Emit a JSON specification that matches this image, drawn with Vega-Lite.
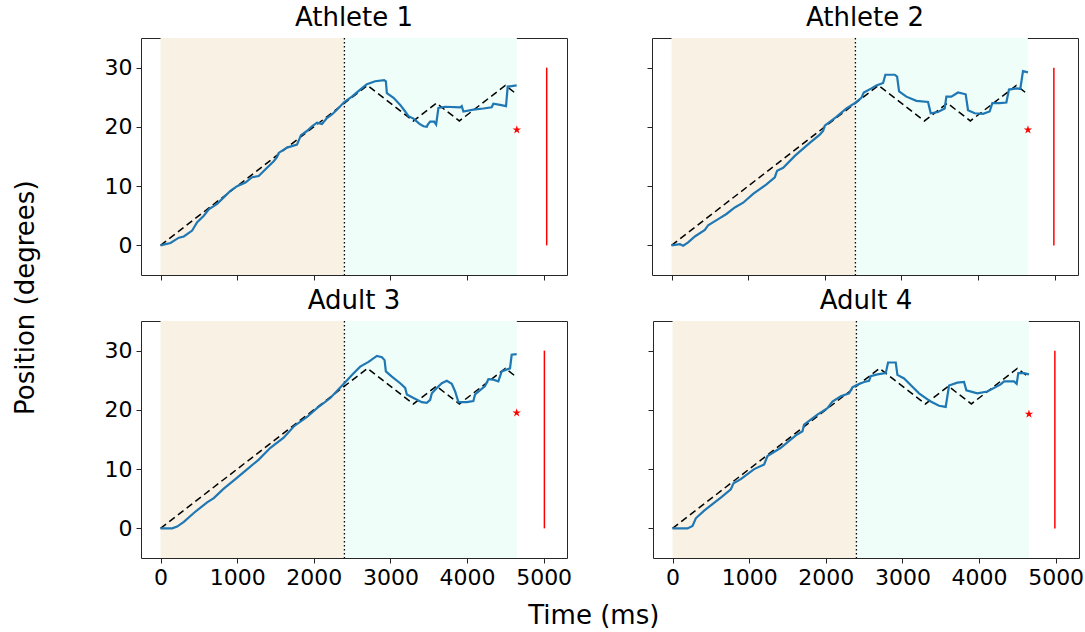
{
  "$schema": "https://vega.github.io/schema/vega-lite/v6.json",
  "padding": {"left": 12, "top": 4, "right": 5, "bottom": 5},
  "background": "white",
  "config": {
    "font": "DejaVu Sans",
    "view": {"stroke": "#262626", "strokeWidth": 1},
    "axis": {"grid": false, "domain": false, "tickColor": "#262626", "tickSize": 5, "tickWidth": 1, "labelFont": "DejaVu Sans", "labelFontSize": 22, "labelColor": "black", "labelPadding": 4},
    "title": {"font": "DejaVu Sans", "fontSize": 26, "fontWeight": "normal", "color": "black", "offset": 6},
    "concat": {"spacing": 78}
  },
  "datasets": {
    "phases": [
      {"phase": "encode", "start": 0, "end": 2400},
      {"phase": "hold", "start": 2400, "end": 4650}
    ],
    "boundary": [{"t": 2400}],
    "target": [
      {"t": 0, "pos": 0}, {"t": 2700, "pos": 27}, {"t": 3300, "pos": 21}, {"t": 3600, "pos": 24},
      {"t": 3900, "pos": 21}, {"t": 4500, "pos": 27}, {"t": 4650, "pos": 25.5}
    ],
    "bar": [
      {"panel": "A1", "t": 5040, "lo": 0, "hi": 30},
      {"panel": "A2", "t": 4990, "lo": 0, "hi": 30},
      {"panel": "A3", "t": 5010, "lo": 0, "hi": 30},
      {"panel": "A4", "t": 4990, "lo": 0, "hi": 30}
    ],
    "star": [
      {"panel": "A1", "t": 4650, "pos": 19.5},
      {"panel": "A2", "t": 4652, "pos": 19.5},
      {"panel": "A3", "t": 4648, "pos": 19.5},
      {"panel": "A4", "t": 4652, "pos": 19.3}
    ],
    "trace": [
      {"panel": "A1", "t": 0, "pos": 0}, {"panel": "A1", "t": 130, "pos": 0.4}, {"panel": "A1", "t": 239, "pos": 1.3}, {"panel": "A1", "t": 304, "pos": 1.5},
      {"panel": "A1", "t": 413, "pos": 2.5}, {"panel": "A1", "t": 478, "pos": 3.9}, {"panel": "A1", "t": 565, "pos": 5.0}, {"panel": "A1", "t": 630, "pos": 6.1},
      {"panel": "A1", "t": 738, "pos": 7.0}, {"panel": "A1", "t": 825, "pos": 8.1}, {"panel": "A1", "t": 912, "pos": 9.2}, {"panel": "A1", "t": 999, "pos": 10.0},
      {"panel": "A1", "t": 1108, "pos": 10.6}, {"panel": "A1", "t": 1195, "pos": 11.5}, {"panel": "A1", "t": 1281, "pos": 11.7}, {"panel": "A1", "t": 1390, "pos": 13.1},
      {"panel": "A1", "t": 1477, "pos": 14.2}, {"panel": "A1", "t": 1520, "pos": 14.9}, {"panel": "A1", "t": 1542, "pos": 15.6}, {"panel": "A1", "t": 1651, "pos": 16.5},
      {"panel": "A1", "t": 1781, "pos": 17.0}, {"panel": "A1", "t": 1833, "pos": 18.6}, {"panel": "A1", "t": 1911, "pos": 19.3}, {"panel": "A1", "t": 1977, "pos": 20.1},
      {"panel": "A1", "t": 2042, "pos": 20.7}, {"panel": "A1", "t": 2107, "pos": 20.5}, {"panel": "A1", "t": 2172, "pos": 21.5}, {"panel": "A1", "t": 2237, "pos": 22.1},
      {"panel": "A1", "t": 2302, "pos": 22.9}, {"panel": "A1", "t": 2398, "pos": 24.2}, {"panel": "A1", "t": 2498, "pos": 25.1}, {"panel": "A1", "t": 2606, "pos": 26.3},
      {"panel": "A1", "t": 2693, "pos": 27.2}, {"panel": "A1", "t": 2802, "pos": 27.7}, {"panel": "A1", "t": 2919, "pos": 27.9}, {"panel": "A1", "t": 2941, "pos": 27.7},
      {"panel": "A1", "t": 2954, "pos": 25.7}, {"panel": "A1", "t": 3041, "pos": 24.9}, {"panel": "A1", "t": 3128, "pos": 23.7}, {"panel": "A1", "t": 3193, "pos": 22.6},
      {"panel": "A1", "t": 3236, "pos": 21.8}, {"panel": "A1", "t": 3301, "pos": 21.4}, {"panel": "A1", "t": 3380, "pos": 20.5}, {"panel": "A1", "t": 3432, "pos": 20.1},
      {"panel": "A1", "t": 3475, "pos": 20.0}, {"panel": "A1", "t": 3488, "pos": 20.4}, {"panel": "A1", "t": 3519, "pos": 20.9}, {"panel": "A1", "t": 3571, "pos": 20.9},
      {"panel": "A1", "t": 3597, "pos": 20.4}, {"panel": "A1", "t": 3627, "pos": 23.2}, {"panel": "A1", "t": 3714, "pos": 23.4}, {"panel": "A1", "t": 3910, "pos": 23.3},
      {"panel": "A1", "t": 3931, "pos": 23.5}, {"panel": "A1", "t": 3953, "pos": 22.6}, {"panel": "A1", "t": 4083, "pos": 22.9}, {"panel": "A1", "t": 4214, "pos": 23.1},
      {"panel": "A1", "t": 4322, "pos": 23.3}, {"panel": "A1", "t": 4344, "pos": 23.9}, {"panel": "A1", "t": 4431, "pos": 23.7}, {"panel": "A1", "t": 4509, "pos": 23.5},
      {"panel": "A1", "t": 4531, "pos": 26.8}, {"panel": "A1", "t": 4648, "pos": 27.0},

      {"panel": "A2", "t": 0, "pos": 0}, {"panel": "A2", "t": 109, "pos": 0.2}, {"panel": "A2", "t": 152, "pos": -0.05}, {"panel": "A2", "t": 217, "pos": 0.5},
      {"panel": "A2", "t": 304, "pos": 1.5}, {"panel": "A2", "t": 435, "pos": 2.6}, {"panel": "A2", "t": 478, "pos": 3.4}, {"panel": "A2", "t": 630, "pos": 4.6},
      {"panel": "A2", "t": 717, "pos": 5.3}, {"panel": "A2", "t": 826, "pos": 6.4}, {"panel": "A2", "t": 935, "pos": 7.2}, {"panel": "A2", "t": 1065, "pos": 8.7},
      {"panel": "A2", "t": 1239, "pos": 10.3}, {"panel": "A2", "t": 1348, "pos": 11.5}, {"panel": "A2", "t": 1378, "pos": 12.6}, {"panel": "A2", "t": 1457, "pos": 13.1},
      {"panel": "A2", "t": 1609, "pos": 15.1}, {"panel": "A2", "t": 1804, "pos": 17.3}, {"panel": "A2", "t": 1935, "pos": 18.7}, {"panel": "A2", "t": 1978, "pos": 19.3},
      {"panel": "A2", "t": 2000, "pos": 20.2}, {"panel": "A2", "t": 2152, "pos": 21.7}, {"panel": "A2", "t": 2283, "pos": 23.1}, {"panel": "A2", "t": 2391, "pos": 24.0},
      {"panel": "A2", "t": 2478, "pos": 24.9}, {"panel": "A2", "t": 2509, "pos": 25.8}, {"panel": "A2", "t": 2609, "pos": 26.5}, {"panel": "A2", "t": 2674, "pos": 27.0},
      {"panel": "A2", "t": 2761, "pos": 27.4}, {"panel": "A2", "t": 2791, "pos": 28.8}, {"panel": "A2", "t": 2913, "pos": 28.8}, {"panel": "A2", "t": 2944, "pos": 28.5},
      {"panel": "A2", "t": 2970, "pos": 26.0}, {"panel": "A2", "t": 3065, "pos": 25.1}, {"panel": "A2", "t": 3196, "pos": 24.4}, {"panel": "A2", "t": 3348, "pos": 24.2},
      {"panel": "A2", "t": 3383, "pos": 22.3}, {"panel": "A2", "t": 3478, "pos": 22.5}, {"panel": "A2", "t": 3565, "pos": 23.1}, {"panel": "A2", "t": 3587, "pos": 25.1},
      {"panel": "A2", "t": 3652, "pos": 25.1}, {"panel": "A2", "t": 3739, "pos": 25.8}, {"panel": "A2", "t": 3839, "pos": 25.5}, {"panel": "A2", "t": 3870, "pos": 22.8},
      {"panel": "A2", "t": 3957, "pos": 22.3}, {"panel": "A2", "t": 4065, "pos": 22.2}, {"panel": "A2", "t": 4152, "pos": 22.6}, {"panel": "A2", "t": 4187, "pos": 24.0},
      {"panel": "A2", "t": 4283, "pos": 24.0}, {"panel": "A2", "t": 4370, "pos": 24.1}, {"panel": "A2", "t": 4404, "pos": 26.3}, {"panel": "A2", "t": 4500, "pos": 26.5},
      {"panel": "A2", "t": 4552, "pos": 26.4}, {"panel": "A2", "t": 4587, "pos": 29.4}, {"panel": "A2", "t": 4652, "pos": 29.2},

      {"panel": "A3", "t": 0, "pos": 0}, {"panel": "A3", "t": 152, "pos": 0}, {"panel": "A3", "t": 217, "pos": 0.3}, {"panel": "A3", "t": 304, "pos": 1.1},
      {"panel": "A3", "t": 434, "pos": 2.6}, {"panel": "A3", "t": 608, "pos": 4.4}, {"panel": "A3", "t": 695, "pos": 5.1}, {"panel": "A3", "t": 825, "pos": 6.7},
      {"panel": "A3", "t": 977, "pos": 8.3}, {"panel": "A3", "t": 1086, "pos": 9.5}, {"panel": "A3", "t": 1282, "pos": 11.6}, {"panel": "A3", "t": 1434, "pos": 13.6},
      {"panel": "A3", "t": 1607, "pos": 15.3}, {"panel": "A3", "t": 1738, "pos": 17.2}, {"panel": "A3", "t": 1912, "pos": 18.8}, {"panel": "A3", "t": 2042, "pos": 20.3},
      {"panel": "A3", "t": 2216, "pos": 22.0}, {"panel": "A3", "t": 2398, "pos": 24.5}, {"panel": "A3", "t": 2498, "pos": 25.9}, {"panel": "A3", "t": 2606, "pos": 27.3},
      {"panel": "A3", "t": 2715, "pos": 28.1}, {"panel": "A3", "t": 2824, "pos": 29.1}, {"panel": "A3", "t": 2889, "pos": 28.9}, {"panel": "A3", "t": 2924, "pos": 28.4},
      {"panel": "A3", "t": 2941, "pos": 26.5}, {"panel": "A3", "t": 3019, "pos": 25.6}, {"panel": "A3", "t": 3128, "pos": 24.5}, {"panel": "A3", "t": 3193, "pos": 23.7},
      {"panel": "A3", "t": 3215, "pos": 22.6}, {"panel": "A3", "t": 3302, "pos": 22.0}, {"panel": "A3", "t": 3410, "pos": 21.3}, {"panel": "A3", "t": 3475, "pos": 21.2},
      {"panel": "A3", "t": 3519, "pos": 21.7}, {"panel": "A3", "t": 3541, "pos": 22.8}, {"panel": "A3", "t": 3606, "pos": 23.7}, {"panel": "A3", "t": 3671, "pos": 24.5},
      {"panel": "A3", "t": 3736, "pos": 24.9}, {"panel": "A3", "t": 3801, "pos": 24.4}, {"panel": "A3", "t": 3845, "pos": 23.1}, {"panel": "A3", "t": 3888, "pos": 21.3},
      {"panel": "A3", "t": 3997, "pos": 21.3}, {"panel": "A3", "t": 4083, "pos": 21.5}, {"panel": "A3", "t": 4105, "pos": 22.6}, {"panel": "A3", "t": 4235, "pos": 24.0},
      {"panel": "A3", "t": 4279, "pos": 25.2}, {"panel": "A3", "t": 4344, "pos": 25.1}, {"panel": "A3", "t": 4409, "pos": 24.8}, {"panel": "A3", "t": 4453, "pos": 26.5},
      {"panel": "A3", "t": 4561, "pos": 27.0}, {"panel": "A3", "t": 4583, "pos": 29.3}, {"panel": "A3", "t": 4648, "pos": 29.4},

      {"panel": "A4", "t": 0, "pos": 0}, {"panel": "A4", "t": 196, "pos": 0}, {"panel": "A4", "t": 261, "pos": 0.4}, {"panel": "A4", "t": 304, "pos": 1.7},
      {"panel": "A4", "t": 413, "pos": 3.0}, {"panel": "A4", "t": 500, "pos": 3.9}, {"panel": "A4", "t": 630, "pos": 5.2}, {"panel": "A4", "t": 761, "pos": 6.6},
      {"panel": "A4", "t": 796, "pos": 7.6}, {"panel": "A4", "t": 891, "pos": 8.3}, {"panel": "A4", "t": 1065, "pos": 10.0}, {"panel": "A4", "t": 1196, "pos": 10.8},
      {"panel": "A4", "t": 1239, "pos": 12.2}, {"panel": "A4", "t": 1413, "pos": 13.6}, {"panel": "A4", "t": 1609, "pos": 15.7}, {"panel": "A4", "t": 1696, "pos": 16.4},
      {"panel": "A4", "t": 1717, "pos": 17.5}, {"panel": "A4", "t": 1891, "pos": 19.2}, {"panel": "A4", "t": 2022, "pos": 20.3}, {"panel": "A4", "t": 2087, "pos": 21.4},
      {"panel": "A4", "t": 2196, "pos": 22.3}, {"panel": "A4", "t": 2304, "pos": 22.8}, {"panel": "A4", "t": 2348, "pos": 23.8}, {"panel": "A4", "t": 2404, "pos": 24.2},
      {"panel": "A4", "t": 2500, "pos": 24.7}, {"panel": "A4", "t": 2565, "pos": 24.9}, {"panel": "A4", "t": 2587, "pos": 25.7}, {"panel": "A4", "t": 2674, "pos": 26.0},
      {"panel": "A4", "t": 2783, "pos": 26.2}, {"panel": "A4", "t": 2813, "pos": 28.0}, {"panel": "A4", "t": 2913, "pos": 28.0}, {"panel": "A4", "t": 2935, "pos": 25.9},
      {"panel": "A4", "t": 3022, "pos": 25.3}, {"panel": "A4", "t": 3131, "pos": 23.9}, {"panel": "A4", "t": 3217, "pos": 22.8}, {"panel": "A4", "t": 3370, "pos": 21.4},
      {"panel": "A4", "t": 3478, "pos": 20.7}, {"panel": "A4", "t": 3565, "pos": 20.5}, {"panel": "A4", "t": 3609, "pos": 24.1}, {"panel": "A4", "t": 3717, "pos": 24.6},
      {"panel": "A4", "t": 3804, "pos": 24.7}, {"panel": "A4", "t": 3835, "pos": 23.3}, {"panel": "A4", "t": 3978, "pos": 22.8}, {"panel": "A4", "t": 4109, "pos": 23.1},
      {"panel": "A4", "t": 4283, "pos": 24.3}, {"panel": "A4", "t": 4326, "pos": 24.8}, {"panel": "A4", "t": 4457, "pos": 24.8}, {"panel": "A4", "t": 4491, "pos": 24.4},
      {"panel": "A4", "t": 4513, "pos": 26.2}, {"panel": "A4", "t": 4587, "pos": 26.2}, {"panel": "A4", "t": 4652, "pos": 26.0}
    ]
  },
  "title": {"text": "Position (degrees)", "orient": "left", "anchor": "middle", "offset": 65, "dx": 19},
  "hconcat": [
    {
      "title": {"text": "Time (ms)", "orient": "bottom", "anchor": "middle", "offset": 14},
      "spacing": 6,
      "vconcat": [
        {
          "spacing": 78,
          "hconcat": [
            {
              "width": 426, "height": 237,
              "title": {"text": "Athlete 1"},
              "layer": [
                {"data": {"name": "phases"}, "mark": {"type": "rect"}, "encoding": {"x": {"field": "start", "type": "quantitative", "scale": {"domain": [-255, 5305], "nice": false, "zero": false}, "axis": {"values": [0, 1000, 2000, 3000, 4000, 5000], "labels": false, "title": null}}, "x2": {"field": "end"}, "color": {"field": "phase", "type": "nominal", "scale": {"domain": ["encode", "hold"], "range": ["#f9f2e4", "#effef8"]}, "legend": null}}},
                {"data": {"name": "boundary"}, "mark": {"type": "rule", "color": "black", "strokeWidth": 1.3, "strokeDash": [1.5, 2.5]}, "encoding": {"x": {"field": "t", "type": "quantitative", "title": null}}},
                {"data": {"name": "target"}, "mark": {"type": "line", "color": "black", "strokeWidth": 1.5, "strokeDash": [7, 4]}, "encoding": {"x": {"field": "t", "type": "quantitative", "title": null}, "y": {"field": "pos", "type": "quantitative", "scale": {"domain": [-5, 35], "nice": false, "zero": false}, "axis": {"values": [0, 10, 20, 30], "title": null}}}},
                {"data": {"name": "trace"}, "transform": [{"filter": {"field": "panel", "equal": "A1"}}], "mark": {"type": "line", "color": "#1f77b4", "strokeWidth": 2.2}, "encoding": {"x": {"field": "t", "type": "quantitative", "title": null}, "y": {"field": "pos", "type": "quantitative", "title": null}}},
                {"data": {"name": "bar"}, "transform": [{"filter": {"field": "panel", "equal": "A1"}}], "mark": {"type": "rule", "color": "#ff0000", "strokeWidth": 1.5}, "encoding": {"x": {"field": "t", "type": "quantitative", "title": null}, "y": {"field": "lo", "type": "quantitative", "title": null}, "y2": {"field": "hi"}}},
                {"data": {"name": "star"}, "transform": [{"filter": {"field": "panel", "equal": "A1"}}], "mark": {"type": "point", "shape": "M0,-1L0.2245,-0.309L0.951,-0.309L0.363,0.118L0.588,0.809L0,0.382L-0.588,0.809L-0.363,0.118L-0.951,-0.309L-0.2245,-0.309Z", "filled": true, "color": "#ff0000", "size": 80, "opacity": 1}, "encoding": {"x": {"field": "t", "type": "quantitative", "title": null}, "y": {"field": "pos", "type": "quantitative", "title": null}}}
              ]
            },
            {
              "width": 426, "height": 237,
              "title": {"text": "Athlete 2"},
              "layer": [
                {"data": {"name": "phases"}, "mark": {"type": "rect"}, "encoding": {"x": {"field": "start", "type": "quantitative", "scale": {"domain": [-255, 5305], "nice": false, "zero": false}, "axis": {"values": [0, 1000, 2000, 3000, 4000, 5000], "labels": false, "title": null}}, "x2": {"field": "end"}, "color": {"field": "phase", "type": "nominal", "scale": {"domain": ["encode", "hold"], "range": ["#f9f2e4", "#effef8"]}, "legend": null}}},
                {"data": {"name": "boundary"}, "mark": {"type": "rule", "color": "black", "strokeWidth": 1.3, "strokeDash": [1.5, 2.5]}, "encoding": {"x": {"field": "t", "type": "quantitative", "title": null}}},
                {"data": {"name": "target"}, "mark": {"type": "line", "color": "black", "strokeWidth": 1.5, "strokeDash": [7, 4]}, "encoding": {"x": {"field": "t", "type": "quantitative", "title": null}, "y": {"field": "pos", "type": "quantitative", "scale": {"domain": [-5, 35], "nice": false, "zero": false}, "axis": {"values": [0, 10, 20, 30], "labels": false, "title": null}}}},
                {"data": {"name": "trace"}, "transform": [{"filter": {"field": "panel", "equal": "A2"}}], "mark": {"type": "line", "color": "#1f77b4", "strokeWidth": 2.2}, "encoding": {"x": {"field": "t", "type": "quantitative", "title": null}, "y": {"field": "pos", "type": "quantitative", "title": null}}},
                {"data": {"name": "bar"}, "transform": [{"filter": {"field": "panel", "equal": "A2"}}], "mark": {"type": "rule", "color": "#ff0000", "strokeWidth": 1.5}, "encoding": {"x": {"field": "t", "type": "quantitative", "title": null}, "y": {"field": "lo", "type": "quantitative", "title": null}, "y2": {"field": "hi"}}},
                {"data": {"name": "star"}, "transform": [{"filter": {"field": "panel", "equal": "A2"}}], "mark": {"type": "point", "shape": "M0,-1L0.2245,-0.309L0.951,-0.309L0.363,0.118L0.588,0.809L0,0.382L-0.588,0.809L-0.363,0.118L-0.951,-0.309L-0.2245,-0.309Z", "filled": true, "color": "#ff0000", "size": 80, "opacity": 1}, "encoding": {"x": {"field": "t", "type": "quantitative", "title": null}, "y": {"field": "pos", "type": "quantitative", "title": null}}}
              ]
            }
          ]
        },
        {
          "spacing": 74,
          "hconcat": [
            {
              "width": 426, "height": 237,
              "title": {"text": "Adult 3"},
              "layer": [
                {"data": {"name": "phases"}, "mark": {"type": "rect"}, "encoding": {"x": {"field": "start", "type": "quantitative", "scale": {"domain": [-255, 5305], "nice": false, "zero": false}, "axis": {"values": [0, 1000, 2000, 3000, 4000, 5000], "format": "d", "title": null}}, "x2": {"field": "end"}, "color": {"field": "phase", "type": "nominal", "scale": {"domain": ["encode", "hold"], "range": ["#f9f2e4", "#effef8"]}, "legend": null}}},
                {"data": {"name": "boundary"}, "mark": {"type": "rule", "color": "black", "strokeWidth": 1.3, "strokeDash": [1.5, 2.5]}, "encoding": {"x": {"field": "t", "type": "quantitative", "title": null}}},
                {"data": {"name": "target"}, "mark": {"type": "line", "color": "black", "strokeWidth": 1.5, "strokeDash": [7, 4]}, "encoding": {"x": {"field": "t", "type": "quantitative", "title": null}, "y": {"field": "pos", "type": "quantitative", "scale": {"domain": [-5, 35], "nice": false, "zero": false}, "axis": {"values": [0, 10, 20, 30], "title": null}}}},
                {"data": {"name": "trace"}, "transform": [{"filter": {"field": "panel", "equal": "A3"}}], "mark": {"type": "line", "color": "#1f77b4", "strokeWidth": 2.2}, "encoding": {"x": {"field": "t", "type": "quantitative", "title": null}, "y": {"field": "pos", "type": "quantitative", "title": null}}},
                {"data": {"name": "bar"}, "transform": [{"filter": {"field": "panel", "equal": "A3"}}], "mark": {"type": "rule", "color": "#ff0000", "strokeWidth": 1.5}, "encoding": {"x": {"field": "t", "type": "quantitative", "title": null}, "y": {"field": "lo", "type": "quantitative", "title": null}, "y2": {"field": "hi"}}},
                {"data": {"name": "star"}, "transform": [{"filter": {"field": "panel", "equal": "A3"}}], "mark": {"type": "point", "shape": "M0,-1L0.2245,-0.309L0.951,-0.309L0.363,0.118L0.588,0.809L0,0.382L-0.588,0.809L-0.363,0.118L-0.951,-0.309L-0.2245,-0.309Z", "filled": true, "color": "#ff0000", "size": 80, "opacity": 1}, "encoding": {"x": {"field": "t", "type": "quantitative", "title": null}, "y": {"field": "pos", "type": "quantitative", "title": null}}}
              ]
            },
            {
              "width": 426, "height": 237,
              "title": {"text": "Adult 4"},
              "layer": [
                {"data": {"name": "phases"}, "mark": {"type": "rect"}, "encoding": {"x": {"field": "start", "type": "quantitative", "scale": {"domain": [-255, 5305], "nice": false, "zero": false}, "axis": {"values": [0, 1000, 2000, 3000, 4000, 5000], "format": "d", "title": null}}, "x2": {"field": "end"}, "color": {"field": "phase", "type": "nominal", "scale": {"domain": ["encode", "hold"], "range": ["#f9f2e4", "#effef8"]}, "legend": null}}},
                {"data": {"name": "boundary"}, "mark": {"type": "rule", "color": "black", "strokeWidth": 1.3, "strokeDash": [1.5, 2.5]}, "encoding": {"x": {"field": "t", "type": "quantitative", "title": null}}},
                {"data": {"name": "target"}, "mark": {"type": "line", "color": "black", "strokeWidth": 1.5, "strokeDash": [7, 4]}, "encoding": {"x": {"field": "t", "type": "quantitative", "title": null}, "y": {"field": "pos", "type": "quantitative", "scale": {"domain": [-5, 35], "nice": false, "zero": false}, "axis": {"values": [0, 10, 20, 30], "labels": false, "title": null}}}},
                {"data": {"name": "trace"}, "transform": [{"filter": {"field": "panel", "equal": "A4"}}], "mark": {"type": "line", "color": "#1f77b4", "strokeWidth": 2.2}, "encoding": {"x": {"field": "t", "type": "quantitative", "title": null}, "y": {"field": "pos", "type": "quantitative", "title": null}}},
                {"data": {"name": "bar"}, "transform": [{"filter": {"field": "panel", "equal": "A4"}}], "mark": {"type": "rule", "color": "#ff0000", "strokeWidth": 1.5}, "encoding": {"x": {"field": "t", "type": "quantitative", "title": null}, "y": {"field": "lo", "type": "quantitative", "title": null}, "y2": {"field": "hi"}}},
                {"data": {"name": "star"}, "transform": [{"filter": {"field": "panel", "equal": "A4"}}], "mark": {"type": "point", "shape": "M0,-1L0.2245,-0.309L0.951,-0.309L0.363,0.118L0.588,0.809L0,0.382L-0.588,0.809L-0.363,0.118L-0.951,-0.309L-0.2245,-0.309Z", "filled": true, "color": "#ff0000", "size": 80, "opacity": 1}, "encoding": {"x": {"field": "t", "type": "quantitative", "title": null}, "y": {"field": "pos", "type": "quantitative", "title": null}}}
              ]
            }
          ]
        }
      ]
    }
  ]
}
